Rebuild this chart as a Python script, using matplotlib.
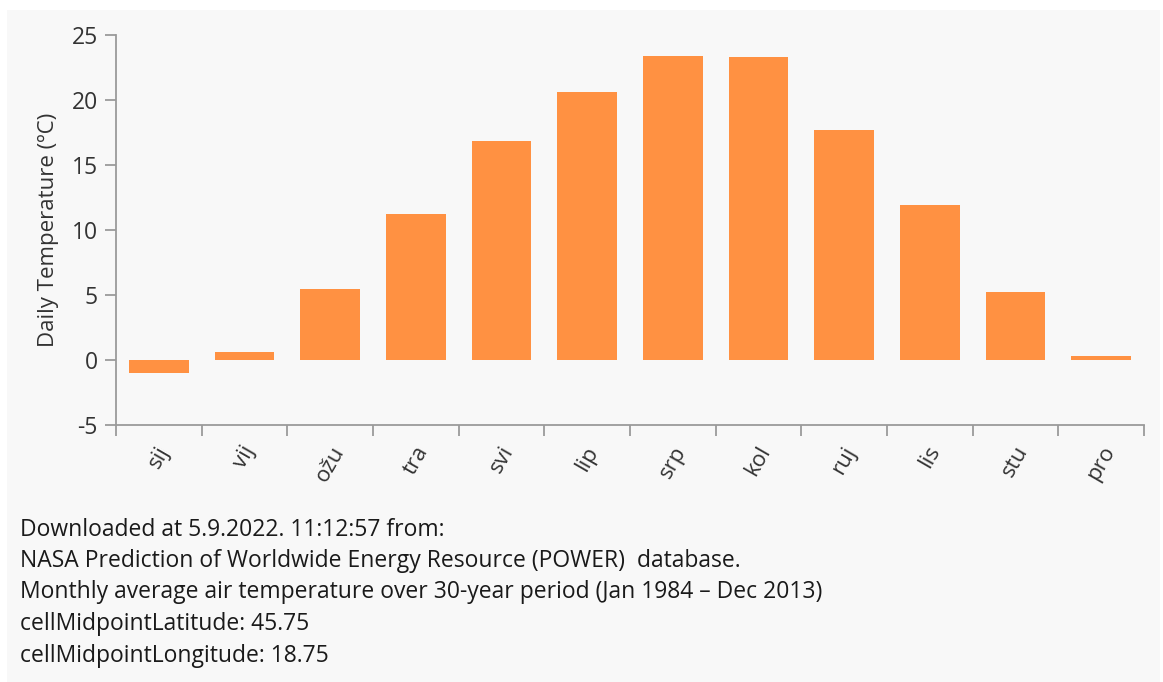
import matplotlib
matplotlib.use("Agg")
import matplotlib.pyplot as plt
from matplotlib.patches import Rectangle
import numpy as np

months = ["sij", "vij", "ožu", "tra", "svi", "lip", "srp", "kol", "ruj", "lis", "stu", "pro"]
temps = [-1.0, 0.6, 5.4, 11.2, 16.8, 20.6, 23.4, 23.3, 17.7, 11.9, 5.2, 0.3]
y_ticks = [-5, 0, 5, 10, 15, 20, 25]
y_label = "Daily Temperature (ºC)"
notes = [
    "Downloaded at 5.9.2022. 11:12:57 from:",
    "NASA Prediction of Worldwide Energy Resource (POWER)  database.",
    "Monthly average air temperature over 30-year period (Jan 1984 – Dec 2013)",
    "cellMidpointLatitude: 45.75",
    "cellMidpointLongitude: 18.75",
]

plt.rcParams['font.family'] = ['Open Sans', 'DejaVu Sans']
W, H = 1163, 682
fig = plt.figure(figsize=(W / 100, H / 100), dpi=100)
fig.patch.set_facecolor("white")
fig.patches.append(Rectangle((7 / W, 0), (1160 - 7) / W, (H - 10) / H,
                             transform=fig.transFigure, facecolor="#f8f8f8",
                             edgecolor="none", zorder=-10))

left, right = 116 / W, 1144 / W
top, bottom = 1 - 35 / H, 1 - 424.5 / H
ax = fig.add_axes([left, bottom, right - left, top - bottom])
ax.set_facecolor("none")
ax.set_zorder(5)

x = np.arange(len(months))
ax.bar(x, temps, width=0.7, color="#ff9142", edgecolor="none")
ax.set_xlim(-0.5, len(months) - 0.5)
ax.set_ylim(-5, 25)

axis_col = "#9a9a9a"
txt_col = "#333333"
for s in ["top", "right"]:
    ax.spines[s].set_visible(False)
for s in ["left", "bottom"]:
    ax.spines[s].set_color(axis_col)
    ax.spines[s].set_linewidth(1.3)

ax.set_yticks(y_ticks)
ax.set_yticklabels([str(v) for v in y_ticks])
ax.tick_params(axis="y", length=8, width=1.3, color=axis_col, labelsize=16.5,
               labelcolor=txt_col, pad=5)

ax.set_xticks(np.arange(len(months) + 1) - 0.5)
ax.set_xticklabels([])
ax.set_xticks(x, minor=True)
ax.set_xticklabels(months, minor=True, rotation=60, ha="center", va="top",
                   fontsize=16, color=txt_col)
ax.tick_params(axis="x", which="major", length=8, width=1.3, color=axis_col)
ax.tick_params(axis="x", which="minor", length=0, pad=13)

ax.set_ylabel(y_label, fontsize=16, color=txt_col, labelpad=9)

ys = [530, 561, 592, 624, 656]
for yy, line in zip(ys, notes):
    fig.text(20 / W, 1 - yy / H, line, fontsize=16.5, color="#1a1a1a",
             ha="left", va="center")

fig.savefig("out.png", dpi=100, facecolor=fig.get_facecolor())
